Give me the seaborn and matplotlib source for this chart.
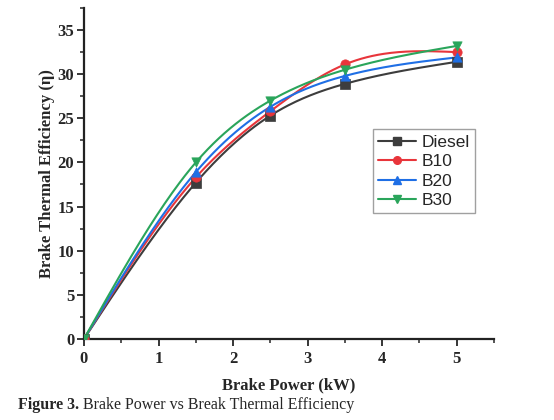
import numpy as np
import pandas as pd
import matplotlib
matplotlib.use("Agg")
import matplotlib.pyplot as plt
import seaborn as sns
from matplotlib.ticker import MultipleLocator, AutoMinorLocator

# data
power = [0, 1.5, 2.5, 3.5, 5]
diesel = [0, 17.7, 25.3, 28.9, 31.4]
b10 = [0, 18.3, 25.8, 31.1, 32.5]
b20 = [0, 18.9, 26.3, 29.8, 31.9]
b30 = [0, 20.0, 27.0, 30.5, 33.2]

fuels = ["Diesel", "B10", "B20", "B30"]
colors = ["#3d3d3d", "#e8353b", "#1f6fe5", "#2aa55b"]
markers = ["s", "o", "^", "v"]

df = pd.DataFrame({"power": power * 4,
                   "bte": diesel + b10 + b20 + b30,
                   "fuel": np.repeat(fuels, len(power))})


def natural_spline(x, y, n=200):
    # plain natural cubic spline, like the smooth connect in Origin
    x = np.asarray(x, float)
    y = np.asarray(y, float)
    k = len(x)
    h = np.diff(x)
    A = np.zeros((k, k))
    r = np.zeros(k)
    A[0, 0] = A[-1, -1] = 1
    for i in range(1, k - 1):
        A[i, i - 1] = h[i - 1]
        A[i, i] = 2 * (h[i - 1] + h[i])
        A[i, i + 1] = h[i]
        r[i] = 3 * ((y[i + 1] - y[i]) / h[i] - (y[i] - y[i - 1]) / h[i - 1])
    c = np.linalg.solve(A, r)
    xs = np.linspace(x[0], x[-1], n)
    idx = np.clip(np.searchsorted(x, xs) - 1, 0, k - 2)
    b = (y[1:] - y[:-1]) / h - h * (2 * c[:-1] + c[1:]) / 3
    d = (c[1:] - c[:-1]) / (3 * h)
    t = xs - x[idx]
    ys = y[idx] + b[idx] * t + c[idx] * t ** 2 + d[idx] * t ** 3
    return xs, ys


sns.set_style("ticks")
plt.rcParams["font.family"] = ["Liberation Serif", "DejaVu Serif"]

fig = plt.figure(figsize=(5.54, 4.2), dpi=100)
ax = fig.add_axes([0.1516, 0.193, 0.74, 0.788])

for fuel, col, mk in zip(fuels, colors, markers):
    sub = df[df["fuel"] == fuel]
    xs, ys = natural_spline(sub["power"], sub["bte"])
    ax.plot(xs, ys, color=col, lw=1.5, zorder=2)
    sns.scatterplot(data=sub, x="power", y="bte", marker=mk, color=col,
                    s=45, edgecolor=col, linewidth=0.5, ax=ax, zorder=3)

# legend with line + marker handles
handles = [plt.Line2D([], [], color=c, marker=m, lw=1.5, markersize=5.5)
           for c, m in zip(colors, markers)]
leg = ax.legend(handles, fuels, loc="upper left", bbox_to_anchor=(0.705, 0.633),
                borderaxespad=0, frameon=True, fancybox=False, handlelength=2.2,
                borderpad=0.3, labelspacing=0.25, handletextpad=0.3,
                prop={"family": "Liberation Sans", "size": 12.5})
leg.get_frame().set_edgecolor("#888888")
leg.get_frame().set_linewidth(1.0)

ax.set_xlim(0, 5.5)
ax.set_ylim(0, 37.5)
ax.xaxis.set_major_locator(MultipleLocator(1))
ax.xaxis.set_minor_locator(AutoMinorLocator(2))
ax.yaxis.set_major_locator(MultipleLocator(5))
ax.yaxis.set_minor_locator(AutoMinorLocator(2))
ax.tick_params(which="major", length=5, width=1.3, labelsize=12)
ax.tick_params(axis="y", which="major", pad=2)
ax.tick_params(which="minor", length=3, width=1.1)
for lab in ax.get_xticklabels() + ax.get_yticklabels():
    lab.set_fontweight("bold")
for s in ["left", "bottom"]:
    ax.spines[s].set_linewidth(1.6)
    ax.spines[s].set_color("#222222")
sns.despine(ax=ax)

ax.set_xlabel("Brake Power (kW)", fontsize=12, fontweight="bold", labelpad=8)
ax.set_ylabel("Brake Thermal Efficiency (η)", fontsize=12, fontweight="bold",
              labelpad=2)

t1 = fig.text(0.033, 0.026, "Figure 3.", fontsize=11.5, fontweight="bold")
fig.canvas.draw()
ax.annotate(" Brake Power vs Break Thermal Efficiency", xy=(1, 0),
            xycoords=t1, fontsize=11.5, va="bottom", ha="left",
            annotation_clip=False)

fig.savefig("out.png", dpi=100)
